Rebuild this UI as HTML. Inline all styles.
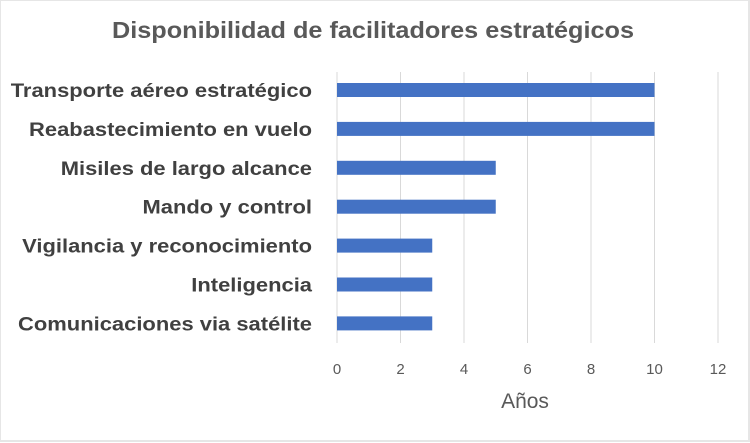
<!DOCTYPE html>
<html><head><meta charset="utf-8"><style>
body{margin:0;background:#fff;}
svg{display:block;font-family:"Liberation Sans",sans-serif;}
</style></head><body>
<svg id="c" width="750" height="443">
<rect x="0" y="0" width="749" height="441" fill="#fff" stroke="#e6e6e6" stroke-width="2"/>
<text x="373" y="38" text-anchor="middle" font-size="23" font-weight="bold" fill="#595959" textLength="522" lengthAdjust="spacingAndGlyphs">Disponibilidad de facilitadores estratégicos</text>
<text x="525" y="408" text-anchor="middle" font-size="21" fill="#595959">Años</text>
</svg>
<script>
const categories=["Transporte aéreo estratégico","Reabastecimiento en vuelo","Misiles de largo alcance","Mando y control","Vigilancia y reconocimiento","Inteligencia","Comunicaciones via satélite"];
const values=[10,10,5,5,3,3,3];
const ticks=[0,2,4,6,8,10,12];
const svg=document.getElementById('c');
const NS='http://www.w3.org/2000/svg';
const x=v=>337+v*(381/12);
const y=i=>90+i*38.9;
function mk(t,a){const e=document.createElementNS(NS,t);for(const k in a)e.setAttribute(k,a[k]);svg.appendChild(e);return e;}
ticks.forEach(t=>{
 const g=mk('line',{x1:x(t),x2:x(t),y1:72,y2:343,stroke:'#d9d9d9','stroke-width':1});
 
 
 const l=mk('text',{x:x(t),y:374,'text-anchor':'middle','font-size':15,fill:'#595959'});
 l.textContent=t;
 
 
});
categories.forEach((c,i)=>{
 const b=mk('rect',{x:x(0),y:y(i)-7,width:x(values[i])-x(0),height:14,fill:'#4472c4'});
 
 
 const l=mk('text',{x:312,y:y(i)+7,'text-anchor':'end','font-size':19,'font-weight':'bold',fill:'#404040'});
 l.textContent=c;
 
 
 const w=l.getComputedTextLength();
 l.setAttribute('textLength',w*1.155);
 l.setAttribute('lengthAdjust','spacingAndGlyphs');
});
</script>
</body></html>
